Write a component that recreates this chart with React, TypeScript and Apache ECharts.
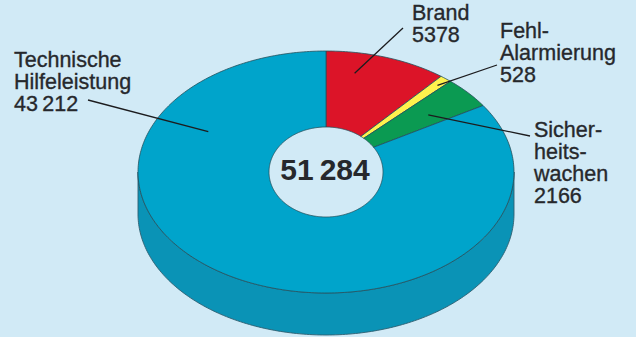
import React, { useEffect, useRef } from "react";
import * as echarts from "echarts";

// Einsatzzahlen je Kategorie, im Uhrzeigersinn ab 12 Uhr
const categories = ["Brand", "Fehl-\nAlarmierung", "Sicher-\nheits-\nwachen", "Technische\nHilfeleistung"];
const counts = [5378, 528, 2166, 43212];
const sliceColors = ["#dc1428", "#fff24d", "#0b9a52", "#00a4cb"];

const WIDTH = 636;
const HEIGHT = 337;
const DISC = { cx: 326, cy: 172, rx: 188, ry: 121, holeRx: 57, holeRy: 45, depth: 42 };
const FONT = '"Liberation Sans", Arial, sans-serif';
const INK = "#26282c";

// Beschriftung: Textanker, Startpunkt der Hinweislinie, Ziel innerhalb des Segments
const callouts = [
  { x: 412, y: 2, from: [403, 28], t: 0.28, r: 0.83 },
  { x: 500, y: 20, from: [497, 65], t: 0.5, r: 0.93 },
  { x: 534, y: 119, from: [530, 136], t: 0.5, r: 0.72 },
  { x: 14, y: 49, from: [88, 100], t: 0.796, r: 0.71 },
];

const total = counts.reduce((a, b) => a + b, 0);
const formatCount = (n: number) =>
  n >= 10000 ? `${Math.floor(n / 1000)}\u2009${String(n % 1000).padStart(3, "0")}` : String(n);

// Winkel in Grad, 0 = oben, im Uhrzeigersinn
const startAngle = (i: number) => (counts.slice(0, i).reduce((a, b) => a + b, 0) / total) * 360;
const endAngle = (i: number) => startAngle(i + 1);
const onEllipse = (deg: number, rx: number, ry: number, cx = DISC.cx, cy = DISC.cy) => {
  const a = (deg * Math.PI) / 180;
  return [cx + rx * Math.sin(a), cy - ry * Math.cos(a)];
};

function traceArc(ctx: any, from: number, to: number, rx: number, ry: number, cx: number, cy: number, move: boolean) {
  const steps = Math.max(2, Math.ceil(Math.abs(to - from) / 1));
  for (let k = 0; k <= steps; k++) {
    const [x, y] = onEllipse(from + ((to - from) * k) / steps, rx, ry, cx, cy);
    if (k === 0 && move) ctx.moveTo(x, y);
    else ctx.lineTo(x, y);
  }
}

// Ringsegment der Deckfläche
echarts.graphic.registerShape(
  "discSlice",
  echarts.graphic.extendShape({
    shape: { a0: 0, a1: 0 },
    buildPath(ctx: any, s: any) {
      const { cx, cy, rx, ry, holeRx, holeRy } = DISC;
      traceArc(ctx, s.a0, s.a1, rx, ry, cx, cy, true);
      traceArc(ctx, s.a1, s.a0, holeRx, holeRy, cx, cy, false);
      ctx.closePath();
    },
  })
);

// Sichtbare Seitenwand der Scheibe
echarts.graphic.registerShape(
  "discWall",
  echarts.graphic.extendShape({
    shape: {},
    buildPath(ctx: any) {
      const { cx, cy, rx, ry, depth } = DISC;
      traceArc(ctx, 270, 90, rx, ry, cx, cy + depth, true);
      traceArc(ctx, 90, 270, rx, ry, cx, cy, false);
      ctx.closePath();
    },
  })
);

export default function App() {
  const ref = useRef<HTMLDivElement>(null);

  useEffect(() => {
    const chart = echarts.init(ref.current!, null, { renderer: "svg" });
    const data = categories.map((name, i) => ({ name, value: counts[i] }));

    chart.setOption({
      animation: false,
      backgroundColor: "#d1eaf6",
      graphic: [
        {
          type: "text",
          z: 20,
          x: DISC.cx - 1,
          y: 169,
          style: {
            text: formatCount(total),
            font: `bold 30px ${FONT}`,
            fill: INK,
            align: "center",
            verticalAlign: "middle",
          },
        },
      ],
      series: [
        {
          type: "custom",
          coordinateSystem: "none",
          silent: true,
          z: 1,
          data: [0],
          renderItem: () => ({
            type: "discWall",
            shape: {},
            style: { fill: "#0a93b6", stroke: "#2f5f70", lineWidth: 0.9 },
          }),
        },
        {
          type: "custom",
          coordinateSystem: "none",
          silent: true,
          z: 2,
          data,
          renderItem: (params: any) => {
            const i = params.dataIndex;
            return {
              type: "discSlice",
              shape: { a0: startAngle(i), a1: endAngle(i) },
              style: { fill: sliceColors[i], stroke: "#24505c", lineWidth: 0.8 },
            };
          },
        },
        {
          type: "custom",
          coordinateSystem: "none",
          silent: true,
          z: 3,
          data,
          renderItem: (params: any) => {
            const i = params.dataIndex;
            const c = callouts[i];
            const a = startAngle(i) + (endAngle(i) - startAngle(i)) * c.t;
            const [x2, y2] = onEllipse(a, DISC.rx * c.r, DISC.ry * c.r);
            return {
              type: "group",
              children: [
                {
                  type: "line",
                  shape: { x1: c.from[0], y1: c.from[1], x2, y2 },
                  style: { stroke: "#1c1c1e", lineWidth: 1.3 },
                },
                {
                  type: "text",
                  x: c.x,
                  y: c.y,
                  style: {
                    text: `${categories[i]}\n${formatCount(counts[i])}`,
                    font: `21.5px ${FONT}`,
                    lineHeight: 22,
                    fill: INK,
                    stroke: INK,
                    lineWidth: 0.35,
                    align: "left",
                    verticalAlign: "top",
                  },
                },
              ],
            };
          },
        },
      ],
    });

    return () => chart.dispose();
  }, []);

  return <div ref={ref} style={{ position: "absolute", left: 0, top: 0, width: WIDTH, height: HEIGHT }} />;
}
